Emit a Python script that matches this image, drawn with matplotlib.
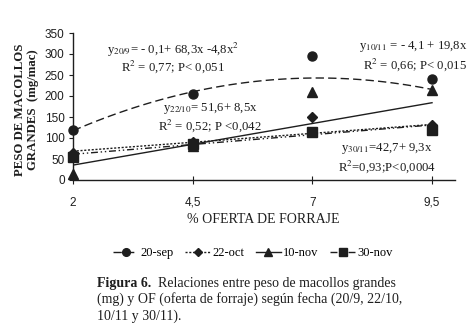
import matplotlib

matplotlib.use("Agg")

import matplotlib.pyplot as plt
import numpy as np
from matplotlib.lines import Line2D

plt.rcParams["font.family"] = ["Liberation Serif", "DejaVu Serif"]
plt.rcParams["mathtext.fontset"] = "stix"

oferta = [2, 4.5, 7, 9.5]
sep20 = [120, 205, 295, 240]
oct22 = [65, 90, 150, 130]
nov10 = [15, 80, 210, 215]
nov30 = [55, 85, 115, 120]

# regression coefficients (a, b, c) for y = a + b x + c x^2
coef_sep20 = (-0.1, 68.3, -4.8)
coef_oct22 = (51.6, 8.5, 0.0)
coef_nov10 = (-4.1, 19.8, 0.0)
coef_nov30 = (42.7, 9.3, 0.0)

ink = "#1e1e1e"

W, H = 471, 335
fig = plt.figure(figsize=(W / 100, H / 100), dpi=100)
ax = fig.add_axes([73 / W, 1 - 180 / H, (455 - 73) / W, (180 - 33) / H])

xs = np.linspace(2, 9.5, 120)
series = [
    ("20-sep", sep20, coef_sep20, "o", (0, (6, 3))),
    ("22-oct", oct22, coef_oct22, "D", (0, (1.5, 1.2))),
    ("10-nov", nov10, coef_nov10, "^", "-"),
    ("30-nov", nov30, coef_nov30, "s", (0, (5, 2, 1, 2, 1, 2))),
]
handles = []
for label, vals, (a, b, c), mk, ls in series:
    ax.plot(xs, a + b * xs + c * xs ** 2, color=ink, lw=1.0, linestyle=ls)
    ms = 5 if mk == "D" else 6.5
    ax.plot(oferta, vals, linestyle="none", marker=mk, color=ink, ms=ms, clip_on=False, zorder=3)
    handles.append(Line2D([], [], color=ink, lw=1.0, linestyle=ls, marker=mk,
                          ms=ms * 0.85, label=label))

ax.set_xlim(2, 9.98)
ax.set_ylim(0, 350)
ax.set_xticks(oferta)
ax.set_xticklabels(["2", "4,5", "7", "9,5"])
ax.set_yticks(range(0, 351, 50))
for side in ["top", "right"]:
    ax.spines[side].set_visible(False)
for side in ["left", "bottom"]:
    ax.spines[side].set_linewidth(1.0)
    ax.spines[side].set_color(ink)
ax.tick_params(axis="x", direction="inout", length=6, pad=9, labelsize=8.5, colors=ink)
ax.tick_params(axis="y", direction="out", length=3, pad=3, labelsize=8.5, colors=ink)
for lbl in ax.get_xticklabels() + ax.get_yticklabels():
    lbl.set_family(["Liberation Sans", "DejaVu Sans"])

ax.set_xlabel("% OFERTA DE FORRAJE", fontsize=10, color=ink)
ax.xaxis.set_label_coords(0.497, -0.225)
ax.set_ylabel("PESO DE MACOLLOS\nGRANDES  (mg/mac)", fontsize=9.2, fontweight="bold",
              color=ink, linespacing=1.15)
ax.yaxis.set_label_coords(-0.088, 0.48)


def ftext(px, py, s, **kw):
    fig.text(px / W, 1 - py / H, s, fontsize=9.2, color=ink, va="center", **kw)


ftext(107, 50, r"y$_{20/9}$= - 0,1+ 68,3x -4,8x$^{2}$")
ftext(121, 67, r"R$^{2}$ = 0,77; P< 0,051")
ftext(163, 108, r"y$_{22/10}$= 51,6+ 8,5x")
ftext(158, 126, r"R$^{2}$ = 0,52; P <0,042")
ftext(359, 47, r"y$_{10/11}$ = - 4,1 + 19,8x")
ftext(363, 65, r"R$^{2}$ = 0,66; P< 0,015")
ftext(341, 148, r"y$_{30/11}$=42,7+ 9,3x")
ftext(338, 167, r"R$^{2}$=0,93;P<0,0004")

fig.legend(handles=handles, loc="center", bbox_to_anchor=(253 / W, 1 - 253 / H), ncol=4,
           frameon=False, fontsize=9, handlelength=2.0, handletextpad=0.2,
           columnspacing=0.9, borderpad=0)

fig.text(97 / W, 1 - 283 / H, "Figura 6.", fontsize=10, fontweight="bold", color=ink, va="center")
fig.text(158 / W, 1 - 283 / H, "Relaciones entre peso de macollos grandes",
         fontsize=10, color=ink, va="center")
fig.text(97 / W, 1 - 299 / H, "(mg) y OF (oferta de forraje) según fecha (20/9, 22/10,",
         fontsize=10, color=ink, va="center")
fig.text(97 / W, 1 - 316 / H, "10/11 y 30/11).", fontsize=10, color=ink, va="center")

fig.savefig("out.png", dpi=100)
plt.close(fig)
